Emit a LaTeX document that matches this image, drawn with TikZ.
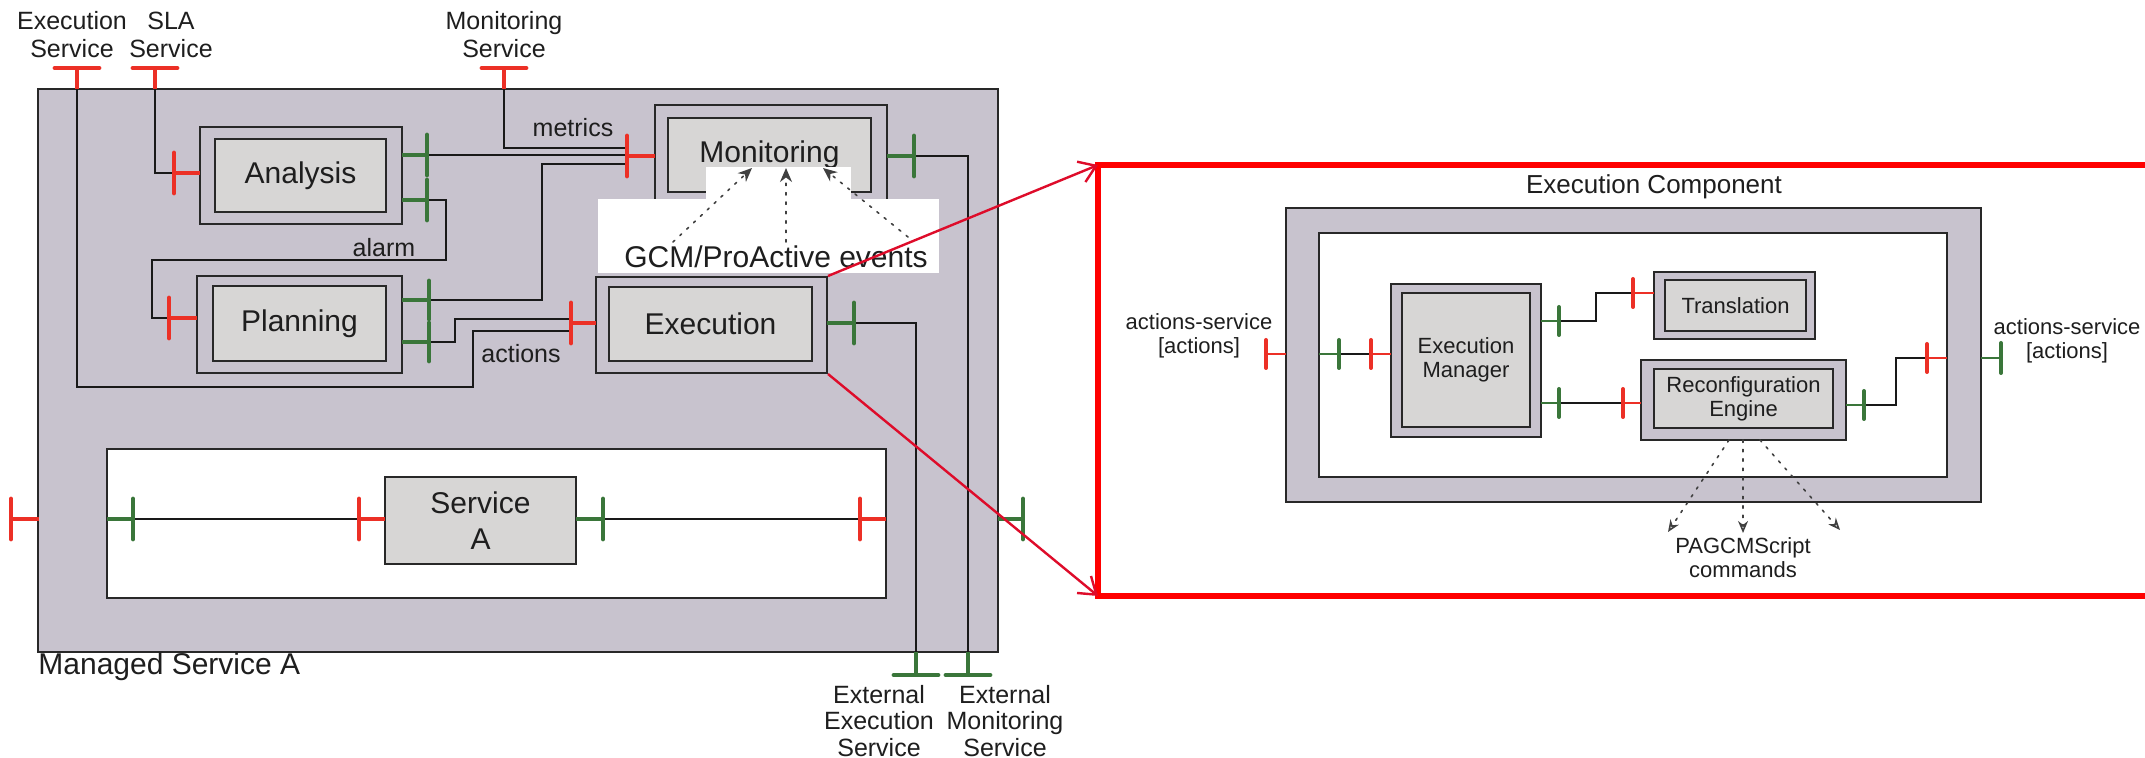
\documentclass[tikz,border=0pt]{standalone}
\usepackage{fontspec}
\setmainfont{Liberation Sans}
\usetikzlibrary{arrows.meta}
\definecolor{membrane}{RGB}{200,195,206}
\definecolor{coregray}{RGB}{215,214,213}
\definecolor{boxline}{RGB}{40,40,40}
\definecolor{portred}{RGB}{236,48,38}
\definecolor{portgreen}{RGB}{58,118,58}
\definecolor{zred}{RGB}{255,0,0}
\definecolor{zarrow}{RGB}{222,12,42}
\definecolor{txt}{RGB}{30,30,30}
\newcommand\hport[5]{\draw[#1stem] (#2,#3) -- (#4,#3); \draw[#1bar] (#2,#3-#5) -- (#2,#3+#5);}
\newcommand\vport[5]{\draw[#1stem] (#2,#3) -- (#2,#4); \draw[#1bar] (#2-#5,#3) -- (#2+#5,#3);}
\newcommand\boxnode[7]{\node[#2, minimum width={(#5-#3)*0.5pt}, minimum height={(#6-#4)*0.5pt}, inner sep=0, align=center] (#1) at ({(#3+#5)/2},{(#4+#6)/2}) {#7};}
\tikzset{
  box/.style={draw=boxline, line width=1pt},
  mem/.style={box, fill=membrane},
  core/.style={box, fill=coregray, text=txt, font=\fontsize{15}{16}\selectfont},
  rcore/.style={box, fill=coregray, text=txt, font=\fontsize{11}{12}\selectfont},
  wbox/.style={box, fill=white},
  wire/.style={draw=black!90, line width=0.75pt},
  rbar/.style={draw=portred, line width=2.4pt, line cap=round},
  rstem/.style={draw=portred, line width=1.6pt},
  gbar/.style={draw=portgreen, line width=2.4pt, line cap=round},
  gstem/.style={draw=portgreen, line width=1.6pt},
  lbl/.style={inner sep=0, text=txt, align=center, font=\fontsize{12.5}{14}\selectfont},
  rlbl/.style={inner sep=0, text=txt, align=center, font=\fontsize{11}{12}\selectfont},
  evarrow/.style={draw=black!75, line width=0.8pt, dash pattern=on 1.2pt off 3.5pt, line cap=round},
  zarr/.style={draw=zarrow, line width=1.2pt, -{Straight Barb[length=8pt,width=11pt,line width=1.2pt]}},
}
\begin{document}
\begin{tikzpicture}[x=0.5pt,y=-0.5pt]
\useasboundingbox (0,0) rectangle (2145,758);
\clip (0,0) rectangle (2145,758);
\fill[white] (0,0) rectangle (2145,758);

% ===== Left: managed service =====
\boxnode{managed}{mem}{38}{89}{998}{652}{}
\boxnode{svcarea}{wbox}{107}{449}{886}{598}{}
\node[lbl, anchor=west, font=\fontsize{15}{16}\selectfont] (mlabel) at (38,667) {Managed Service A};

% top labels
\node[lbl, font=\fontsize{12.5}{14}\selectfont] (lexs) at (72,35) {Execution\\Service};
\node[lbl] (lsla) at (171,35) {SLA\\Service};
\node[lbl] (lmons) at (504,35) {Monitoring\\Service};

% coordinates of port ends
\coordinate (esT) at (77,89);
\coordinate (slaT) at (155,89);
\coordinate (msT) at (504,89);
\coordinate (anR) at (174,173);
\coordinate (anG1) at (427,155);
\coordinate (anG2) at (427,200);
\coordinate (plR) at (169,318);
\coordinate (plG1) at (429,300);
\coordinate (plG2) at (429,342);
\coordinate (moRa) at (627,148);
\coordinate (moRb) at (627,155);
\coordinate (moRc) at (627,164);
\coordinate (moG) at (914,156);
\coordinate (exRa) at (571,319);
\coordinate (exRb) at (571,331);
\coordinate (exG) at (854,323);
\coordinate (eeB) at (916,652);
\coordinate (emB) at (968,652);

% wires
\draw[wire] (esT) -- (77,387) -- (473,387) -- (473,331) -- (exRb);
\draw[wire] (slaT) |- (anR);
\draw[wire] (msT) |- (moRa);
\draw[wire] (anG1) -- (moRb);
\draw[wire] (anG2) -- (446,200) -- (446,260) -- (152,260) -- (152,318) -- (plR);
\draw[wire] (plG1) -- (542,300) -- (542,164) -- (moRc);
\draw[wire] (plG2) -- (455,342) -- (455,319) -- (exRa);
\draw[wire] (moG) -- (968,156) -- (emB);
\draw[wire] (exG) -- (916,323) -- (eeB);

% components
\boxnode{anO}{mem}{200}{127}{402}{224}{}
\boxnode{an}{core}{215}{139}{386}{212}{Analysis}
\boxnode{plO}{mem}{197}{276}{402}{373}{}
\boxnode{pl}{core}{213}{286}{386}{361}{Planning}
\boxnode{moO}{mem}{655}{105}{887}{205}{}
\boxnode{mo}{core}{668}{118}{871}{192}{Monitoring}
\boxnode{exO}{mem}{596}{277}{827}{373}{}
\boxnode{ex}{core}{609}{287}{812}{361}{Execution}
\boxnode{sa}{core}{385}{477}{576}{564}{Service\\[2pt]A}

% wire labels
\node[lbl] (lmetrics) at (573,128) {metrics};
\node[lbl] (lalarm) at (384,248) {alarm};
\node[lbl] (lactions) at (521,354) {actions};

% ports (left part)
\vport{r}{77}{68}{89}{22}
\vport{r}{155}{68}{89}{22}
\vport{r}{504}{68}{89}{22}
\hport{r}{174}{173}{200}{20}
\hport{g}{427}{155}{402}{20}
\hport{g}{427}{200}{402}{20}
\hport{r}{169}{318}{197}{20}
\hport{g}{429}{300}{402}{19}
\hport{g}{429}{342}{402}{19}
\hport{r}{627}{156}{655}{20}
\hport{g}{914}{156}{887}{20}
\hport{r}{571}{323}{596}{20}
\hport{g}{854}{323}{827}{20}
\vport{g}{916}{675}{652}{22}
\vport{g}{968}{675}{652}{22}
% service row
\coordinate (siG) at (133,519);
\coordinate (saR) at (359,519);
\coordinate (saG) at (603,519);
\coordinate (soR) at (860,519);
\draw[wire] (siG) -- (saR);
\draw[wire] (saG) -- (soR);
\hport{r}{11}{519}{39}{20}
\hport{g}{133}{519}{107}{20}
\hport{r}{359}{519}{385}{20}
\hport{g}{603}{519}{576}{20}
\hport{r}{860}{519}{886}{20}
\hport{g}{1023}{519}{998}{20}

% external labels
\node[lbl, font=\fontsize{12.5}{13.3}\selectfont] (lext1) at (879,721) {External\\Execution\\Service};
\node[lbl, font=\fontsize{12.5}{13.3}\selectfont] (lext2) at (1005,721) {External\\Monitoring\\Service};

% GCM/ProActive events overlay
\fill[white] (706,167) rectangle (851,199);
\fill[white] (598,199) rectangle (939,273);
\node[lbl, font=\fontsize{15}{16}\selectfont] (gcm) at (776,257) {GCM/ProActive events};
\coordinate (ev1s) at (673,242); \coordinate (ev1e) at (752,168);
\coordinate (ev2s) at (786,242); \coordinate (ev2e) at (786,168);
\coordinate (ev3s) at (908,237); \coordinate (ev3e) at (823,168);
\draw[evarrow, -{Stealth[length=7pt,width=6pt]}] (ev1s) -- (ev1e);
\draw[evarrow, -{Stealth[length=7pt,width=6pt]}] (ev2s) -- (ev2e);
\draw[evarrow, -{Stealth[length=7pt,width=6pt]}] (ev3s) -- (ev3e);

% ===== Right: execution component =====
\coordinate (zTL) at (1098,165);
\coordinate (zBL) at (1098,596);
\draw[draw=zred, line width=2.6pt] (2200,165) -- (zTL) -- (zBL) -- (2200,596);
\node[rlbl, font=\fontsize{13}{14}\selectfont] (ectitle) at (1654,187) {Execution Component};
\boxnode{ecO}{mem}{1286}{208}{1981}{502}{}
\boxnode{ecI}{wbox}{1319}{233}{1947}{477}{}
\boxnode{emO}{mem}{1391}{284}{1541}{437}{}
\boxnode{em}{rcore}{1402}{293}{1530}{427}{Execution\\Manager}
\boxnode{trO}{mem}{1654}{272}{1815}{339}{}
\boxnode{tr}{rcore}{1665}{280}{1806}{331}{Translation}
\boxnode{reO}{mem}{1641}{360}{1846}{440}{}
\boxnode{re}{rcore}{1654}{369}{1833}{428}{Reconfiguration\\Engine}

\coordinate (ciG) at (1339,354);
\coordinate (emR) at (1371,354);
\coordinate (emG1) at (1559,321);
\coordinate (trR) at (1633,293);
\coordinate (emG2) at (1559,403);
\coordinate (reR) at (1623,403);
\coordinate (reG) at (1864,405);
\coordinate (coR) at (1927,358);
\draw[wire] (ciG) -- (emR);
\draw[wire] (emG1) -- (1596,321) -- (1596,293) -- (trR);
\draw[wire] (emG2) -- (reR);
\draw[wire] (reG) -- (1896,405) -- (1896,358) -- (coR);

\tikzset{rbar/.append style={line width=2pt}, gbar/.append style={line width=2pt}, rstem/.append style={line width=1.3pt}, gstem/.append style={line width=1.3pt}}
\hport{r}{1266}{354}{1286}{14}
\hport{g}{1339}{354}{1319}{14}
\hport{r}{1371}{354}{1391}{14}
\hport{g}{1559}{321}{1541}{14}
\hport{r}{1633}{293}{1654}{14}
\hport{g}{1559}{403}{1541}{14}
\hport{r}{1623}{403}{1641}{14}
\hport{g}{1864}{405}{1846}{14}
\hport{r}{1927}{358}{1947}{14}
\hport{g}{2001}{358}{1981}{15}

\node[rlbl] (lasL) at (1199,336) {actions-service\\{}[actions]};
\node[rlbl] (lasR) at (2067,341) {actions-service\\{}[actions]};

\coordinate (pa1s) at (1729,440); \coordinate (pa1e) at (1668,532);
\coordinate (pa2s) at (1743,440); \coordinate (pa2e) at (1743,533);
\coordinate (pa3s) at (1760,440); \coordinate (pa3e) at (1840,530);
\draw[evarrow, -{Stealth[open,length=6pt,width=5pt]}] (pa1s) -- (pa1e);
\draw[evarrow, -{Stealth[open,length=6pt,width=5pt]}] (pa2s) -- (pa2e);
\draw[evarrow, -{Stealth[open,length=6pt,width=5pt]}] (pa3s) -- (pa3e);
\node[rlbl] (pagcm) at (1743,558) {PAGCMScript\\commands};

% zoom arrows
\draw[zarr] (exO.north east) -- (zTL);
\draw[zarr] (exO.south east) -- (zBL);
\end{tikzpicture}
\end{document}
